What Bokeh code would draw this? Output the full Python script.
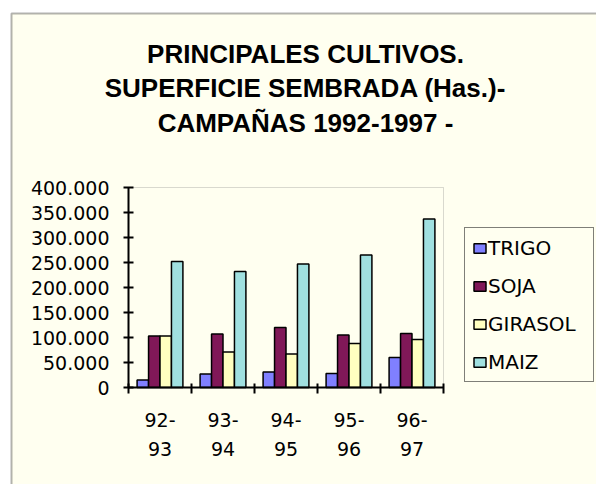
import numpy as np
from bokeh.plotting import figure
from bokeh.models import (ColumnDataSource, Range1d, LinearAxis, FixedTicker, Legend, LegendItem,
                          BoxAnnotation, Label)
from bokeh.transform import dodge
from bokeh.embed import file_html
from bokeh.resources import INLINE

# ---- data ----
campanas = ["92-93", "93-94", "94-95", "95-96", "96-97"]
campana_labels = ["92-\n93", "93-\n94", "94-\n95", "95-\n96", "96-\n97"]
series_names = ["TRIGO", "SOJA", "GIRASOL", "MAIZ"]
trigo = [15000, 27000, 31000, 28000, 60000]
soja = [103000, 107000, 120000, 105000, 108000]
girasol = [103000, 71000, 67000, 88000, 96000]
maiz = [252000, 232000, 247000, 265000, 337000]
y_ticks = [0, 50000, 100000, 150000, 200000, 250000, 300000, 350000, 400000]
y_tick_labels = ["0", "50.000", "100.000", "150.000", "200.000", "250.000", "300.000", "350.000", "400.000"]
title_lines = ["PRINCIPALES CULTIVOS.", "SUPERFICIE SEMBRADA (Has.)-", "CAMPAÑAS 1992-1997 -"]

# ---- layout / styles (pixels) ----
CREAM = "#FFFFF0"
colors = ["#8080FF", "#801858", "#FFFFC0", "#A0E0E0"]
W, H = 596, 484
PA_L, PA_R, PA_T, PA_B = 128, 443, 187, 387      # plot area in canvas pixels
n = len(campanas)
y_max = y_ticks[-1]
px_x = (PA_R - PA_L) / n
px_y = (PA_B - PA_T) / y_max
x_range = Range1d(-PA_L / px_x, n + (W - PA_R) / px_x)
y_range = Range1d(-(H - PA_B) / px_y, y_max + PA_T / px_y)

centers = np.arange(n) + 0.5
source = ColumnDataSource(dict(x=centers, TRIGO=trigo, SOJA=soja, GIRASOL=girasol, MAIZ=maiz))

p = figure(width=W, height=H, output_backend="svg", toolbar_location=None,
           x_range=x_range, y_range=y_range, x_axis_type=None, y_axis_type=None,
           min_border=0)
p.title.visible = False
p.border_fill_color = "white"
p.background_fill_color = "white"
p.outline_line_color = None
p.xgrid.visible = False
p.ygrid.visible = False

# chart area: cream with a black border (right/bottom edges fall outside the picture)
p.add_layout(BoxAnnotation(left=11, right=W + 100, top=H - 13, bottom=-100,
                           left_units="screen", right_units="screen", top_units="screen", bottom_units="screen",
                           fill_color=CREAM, fill_alpha=1.0, line_color="black", line_width=2,
                           level="underlay"))
# plot-area outline (grey)
p.add_layout(BoxAnnotation(left=0, right=n, bottom=0, top=y_max,
                           fill_alpha=0, line_color="#808080", line_width=1, level="underlay"))

bw = 1.0 / 5.5
renderers = []
for j, (name, col) in enumerate(zip(series_names, colors)):
    r = p.vbar(x=dodge("x", (j - 1.5) * bw, range=p.x_range), top=name, width=bw, bottom=0,
               source=source, fill_color=col, line_color="black", line_width=1.5)
    renderers.append(r)

# y axis
yax = LinearAxis(ticker=FixedTicker(ticks=y_ticks, minor_ticks=[]), fixed_location=0, bounds=(0, y_max))
yax.major_label_overrides = {t: l for t, l in zip(y_ticks, y_tick_labels)}
yax.axis_line_color = "black"
yax.axis_line_width = 2
yax.major_tick_in = 5
yax.major_tick_out = 5
yax.major_tick_line_width = 2
yax.minor_tick_line_color = None
yax.major_label_standoff = 14
yax.major_label_text_font = "DejaVu Sans"
yax.major_label_text_font_size = "19px"
yax.major_label_text_color = "black"
p.add_layout(yax, "left")

# x axis: labels at category centres, ticks at category boundaries
xax = LinearAxis(ticker=FixedTicker(ticks=list(centers), minor_ticks=list(np.arange(n + 1))),
                 fixed_location=0, bounds=(0, n))
xax.major_label_overrides = {float(c): l for c, l in zip(centers, campana_labels)}
xax.axis_line_color = "black"
xax.axis_line_width = 2
xax.major_tick_in = 0
xax.major_tick_out = 0
xax.minor_tick_in = 4
xax.minor_tick_out = 6
xax.minor_tick_line_width = 2
xax.minor_tick_line_color = "black"
xax.major_label_standoff = 15
xax.major_label_text_font = "DejaVu Sans"
xax.major_label_text_font_size = "19px"
xax.major_label_text_line_height = 1.36
xax.major_label_text_color = "black"
p.add_layout(xax, "below")

# legend (bottom-left corner given from the canvas' bottom-left)
items = [LegendItem(label=nm, renderers=[r]) for nm, r in zip(series_names, renderers)]
legend = Legend(items=items, location=(464, H - 382), orientation="vertical",
                border_line_color="black", border_line_width=1.5,
                background_fill_color=CREAM, background_fill_alpha=1.0,
                label_text_font="DejaVu Sans", label_text_font_size="20px", label_text_color="black",
                label_text_line_height=0.7,
                glyph_width=15, glyph_height=12, label_height=25, label_width=98, label_standoff=1,
                spacing=13, padding=7, margin=0)
p.add_layout(legend, "center")

# title
baselines = [53, 87.5, 122]
for txt, yb in zip(title_lines, baselines):
    p.add_layout(Label(x=305, y=H - yb, x_units="screen", y_units="screen", text=txt,
                       text_align="center", text_baseline="alphabetic",
                       text_font="Liberation Sans", text_font_style="bold",
                       text_font_size="26px", text_color="black"))

open("out.html", "w").write(file_html(p, INLINE))
